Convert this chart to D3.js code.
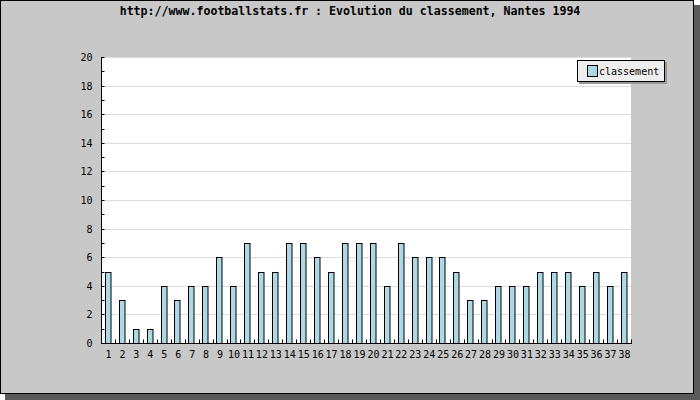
<!DOCTYPE html>
<html><head><meta charset="utf-8">
<script src="https://cdn.jsdelivr.net/npm/d3@7"></script>
<style>body{margin:0;background:#fff}svg{display:block}</style>
</head><body>
<script>
const title = "http://www.footballstats.fr : Evolution du classement, Nantes 1994";
const seriesName = "classement";
const rounds = d3.range(1, 39).map(String);
const values = [5,3,1,1,4,3,4,4,6,4,7,5,5,7,7,6,5,7,7,7,4,7,6,6,6,5,3,3,4,4,4,5,5,5,4,5,4,5];
const yTicks = [0,2,4,6,8,10,12,14,16,18,20];

const W = 700, H = 400;
const svg = d3.select("body").append("svg").attr("width", W).attr("height", H);
const font = "'DejaVu Sans Mono', 'Liberation Mono', monospace";

// frame with shadow
svg.append("rect").attr("x", 5).attr("y", 5).attr("width", 695).attr("height", 395).attr("fill", "#5a5a5a");
svg.append("rect").attr("x", 0.5).attr("y", 0.5).attr("width", 693).attr("height", 393)
  .attr("fill", "#c8c8c8").attr("stroke", "#000");

svg.append("text").attr("x", 350).attr("y", 15).attr("text-anchor", "middle")
  .attr("font-family", font).attr("font-size", 11.6).attr("font-weight", "bold").attr("fill", "#000").text(title);

const L = 101, R = 631, T = 57, B = 343;
svg.append("rect").attr("x", L).attr("y", T).attr("width", R - L).attr("height", B - T).attr("fill", "#fff");

const x = d3.scaleBand().domain(rounds).range([L, R]).paddingInner(0).paddingOuter(0);
const y = d3.scaleLinear().domain([0, 20]).range([B, T]);

// grid
svg.append("g").selectAll("line").data(yTicks.filter(d => d > 0)).join("line")
  .attr("x1", L).attr("x2", R).attr("y1", d => Math.round(y(d)) + 0.5).attr("y2", d => Math.round(y(d)) + 0.5)
  .attr("stroke", "#dcdcdc");

// bars
const bw = 6.5;
svg.append("g").selectAll("rect").data(values).join("rect")
  .attr("x", (d, i) => Math.round(x(rounds[i]) + x.bandwidth() / 2 - bw / 2) + 0.5)
  .attr("y", d => Math.round(y(d)) + 0.5)
  .attr("width", bw - 1)
  .attr("height", d => B - Math.round(y(d)))
  .attr("fill", "#add8e6").attr("stroke", "#000");

// y axis
const yAxis = svg.append("g").attr("transform", `translate(${L + 0.5},0)`);
yAxis.append("line").attr("y1", T).attr("y2", B + 1).attr("stroke", "#000");
yAxis.selectAll("line.t").data(d3.range(0, 21)).join("line").attr("class", "t")
  .attr("x1", 0).attr("x2", 3).attr("y1", d => Math.round(y(d)) + 0.5).attr("y2", d => Math.round(y(d)) + 0.5)
  .attr("stroke", "#000");
yAxis.selectAll("text").data(yTicks).join("text")
  .attr("x", -9).attr("y", d => y(d) + 4).attr("text-anchor", "end")
  .attr("font-family", font).attr("font-size", 10).attr("fill", "#000").text(d => d);

// x axis
const xAxis = svg.append("g").attr("transform", `translate(0,${B + 0.5})`);
xAxis.append("line").attr("x1", L).attr("x2", R + 1).attr("stroke", "#000");
xAxis.selectAll("line.t").data(rounds.slice(1).concat(["end"])).join("line").attr("class", "t")
  .attr("x1", (d, i) => Math.round(i < rounds.length - 1 ? x(d) : R) + 0.5)
  .attr("x2", (d, i) => Math.round(i < rounds.length - 1 ? x(d) : R) + 0.5)
  .attr("y1", 0).attr("y2", -4).attr("stroke", "#000");
xAxis.selectAll("text").data(rounds).join("text")
  .attr("x", d => x(d) + x.bandwidth() / 2 + 0.5).attr("y", 14.5).attr("text-anchor", "middle")
  .attr("font-family", font).attr("font-size", 10).attr("fill", "#000").text(d => d);

// legend
const lg = svg.append("g");
lg.append("rect").attr("x", 579).attr("y", 62).attr("width", 88).attr("height", 22).attr("fill", "#9a9a9a");
lg.append("rect").attr("x", 577.5).attr("y", 60.5).attr("width", 87).attr("height", 21).attr("fill", "#eeeeee").attr("stroke", "#000");
lg.append("rect").attr("x", 587.5).attr("y", 65.5).attr("width", 10).attr("height", 11).attr("fill", "#add8e6").attr("stroke", "#000");
lg.append("text").attr("x", 599).attr("y", 75).attr("font-family", font).attr("font-size", 10).attr("fill", "#000").text(seriesName);
</script>
</body></html>
